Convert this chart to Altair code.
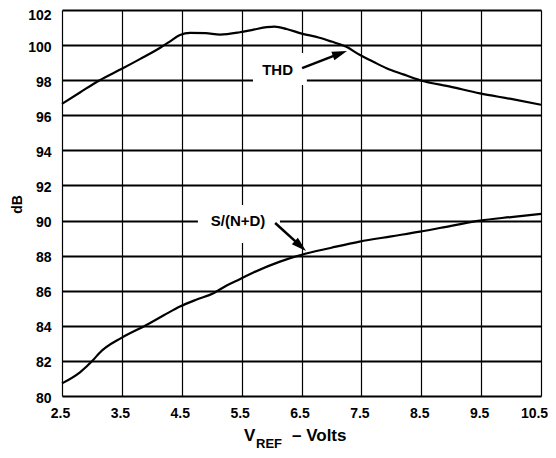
import altair as alt
import pandas as pd

# ---- data ----
vref_thd = [2.5, 2.8, 3.13, 3.5, 3.8, 4.14, 4.3, 4.47, 4.64, 4.9, 5.14, 5.47, 5.7,
            5.92, 6.05, 6.25, 6.49, 6.8, 7.0, 7.25, 7.47, 7.7, 7.92, 8.2, 8.48,
            9.0, 9.48, 10.0, 10.5]
thd_db = [96.65, 97.3, 98.0, 98.65, 99.2, 99.85, 100.2, 100.58, 100.7, 100.68,
          100.6, 100.73, 100.88, 101.02, 101.05, 100.92, 100.67, 100.42, 100.2,
          99.9, 99.45, 99.05, 98.68, 98.33, 98.0, 97.62, 97.25, 96.93, 96.6]

vref_snd = [2.5, 2.8, 3.02, 3.13, 3.5, 3.91, 4.2, 4.47, 4.75, 5.03, 5.25, 5.47,
            5.69, 6.14, 6.49, 7.0, 7.47, 8.0, 8.48, 9.0, 9.48, 10.0, 10.5]
snd_db = [80.72, 81.35, 82.05, 82.47, 83.33, 84.05, 84.6, 85.1, 85.5, 85.86, 86.3,
          86.66, 87.03, 87.66, 88.04, 88.45, 88.8, 89.1, 89.37, 89.7, 90.0, 90.2,
          90.38]

x_ticks = [2.5, 3.5, 4.5, 5.5, 6.5, 7.5, 8.5, 9.5, 10.5]
y_ticks = [80, 82, 84, 86, 88, 90, 92, 94, 96, 98, 100, 102]

# annotations (data coordinates)
label_text = ["THD", "S/(N+D)"]
label_x = [6.10, 5.44]
label_y = [98.58, 89.97]
box_x1 = [5.69, 4.77]
box_x2 = [6.59, 6.14]
box_y1 = [97.73, 88.72]
box_y2 = [99.55, 90.89]
arrow_x1 = [6.51, 6.06]
arrow_y1 = [98.69, 89.86]
arrow_x2 = [7.135, 6.477]
arrow_y2 = [99.51, 88.57]
tip_x = [7.26, 6.575]
tip_y = [99.66, 88.26]
tip_angle = [70.4, 132.1]

title_parts = ["V", "REF", "\u2013 Volts"]

FONT = "Liberation Sans"

curves = pd.concat([
    pd.DataFrame({"v": vref_thd, "db": thd_db, "s": "THD"}),
    pd.DataFrame({"v": vref_snd, "db": snd_db, "s": "SND"}),
])
ann = pd.DataFrame({
    "text": label_text, "lx": label_x, "ly": label_y,
    "bx1": box_x1, "bx2": box_x2, "by1": box_y1, "by2": box_y2,
    "ax1": arrow_x1, "ay1": arrow_y1, "ax2": arrow_x2, "ay2": arrow_y2,
    "tx": tip_x, "ty": tip_y, "ang": tip_angle,
})

xscale = alt.Scale(domain=[2.5, 10.5], nice=False, zero=False)
yscale = alt.Scale(domain=[80, 102], nice=False, zero=False)
xaxis = alt.Axis(values=x_ticks, format=".1f", title=None, ticks=False, domain=False,
                 grid=True, gridColor="black", gridWidth=1.2, gridOpacity=1,
                 labelFont=FONT, labelFontWeight="bold", labelFontSize=14,
                 labelColor="black", labelPadding=10, labelFlush=False,
                 labelOffset={"condition": {"test": "datum.value >= 10.4", "value": -7},
                              "value": -2})
yaxis = alt.Axis(values=y_ticks, title="dB", ticks=False, domain=False,
                 grid=True, gridColor="black", gridWidth=2, gridOpacity=1,
                 labelFont=FONT, labelFontWeight="bold", labelFontSize=14,
                 labelColor="black", labelPadding=11,
                 labelOffset={"condition": {"test": "datum.value >= 101", "value": 5},
                              "value": 2},
                 titleFont=FONT, titleFontWeight="bold", titleFontSize=14,
                 titleColor="black", titleX=-45, titleY=194, titleAngle=-90,
                 titleAlign="center", titleBaseline="middle")


def X(f):
    return alt.X(f, type="quantitative", scale=xscale, axis=xaxis)


def Y(f):
    return alt.Y(f, type="quantitative", scale=yscale, axis=yaxis)


boxes = alt.Chart(ann).mark_rect(color="white").encode(
    x=X("bx1"), x2="bx2", y=Y("by1"), y2="by2")

lines = alt.Chart(curves).mark_line(color="black", strokeWidth=2.2,
                                    interpolate="monotone").encode(
    x=X("v"), y=Y("db"), detail="s")

arrows = alt.Chart(ann).mark_rule(color="black", strokeWidth=2.5).encode(
    x=X("ax1"), y=Y("ay1"), x2="ax2", y2="ay2")

heads = alt.Chart(ann).mark_point(
    shape="M0,0L0.45,1.5L-0.45,1.5Z", filled=True, color="black",
    opacity=1, size=400, strokeWidth=0).encode(
    x=X("tx"), y=Y("ty"), angle=alt.Angle("ang:Q", scale=None))

labels = alt.Chart(ann).mark_text(font=FONT, fontWeight="bold", fontSize=15,
                                  color="black", baseline="middle").encode(
    x=X("lx"), y=Y("ly"), text="text")

one = pd.DataFrame({"k": [0]})
t_v = alt.Chart(one).mark_text(text=title_parts[0], font=FONT, fontWeight="bold",
                               fontSize=17, align="left", baseline="alphabetic",
                               color="black").encode(x=alt.value(182), y=alt.value(431))
t_ref = alt.Chart(one).mark_text(text=title_parts[1], font=FONT, fontWeight="bold",
                                 fontSize=13, align="left", baseline="alphabetic",
                                 color="black").encode(x=alt.value(194), y=alt.value(438))
t_volts = alt.Chart(one).mark_text(text=title_parts[2], font=FONT, fontWeight="bold",
                                   fontSize=17, align="left", baseline="alphabetic",
                                   color="black").encode(x=alt.value(230), y=alt.value(431))

chart = alt.layer(boxes, lines, arrows, heads, labels, t_v, t_ref, t_volts).properties(
    width=479, height=386,
    autosize=alt.AutoSizeParams(type="none"),
    padding={"left": 54, "top": 2, "right": 7, "bottom": 54},
).configure_view(stroke="black", strokeWidth=3).configure(background="white")

chart.save("out.html", embed_options={"renderer": "svg", "actions": False})
